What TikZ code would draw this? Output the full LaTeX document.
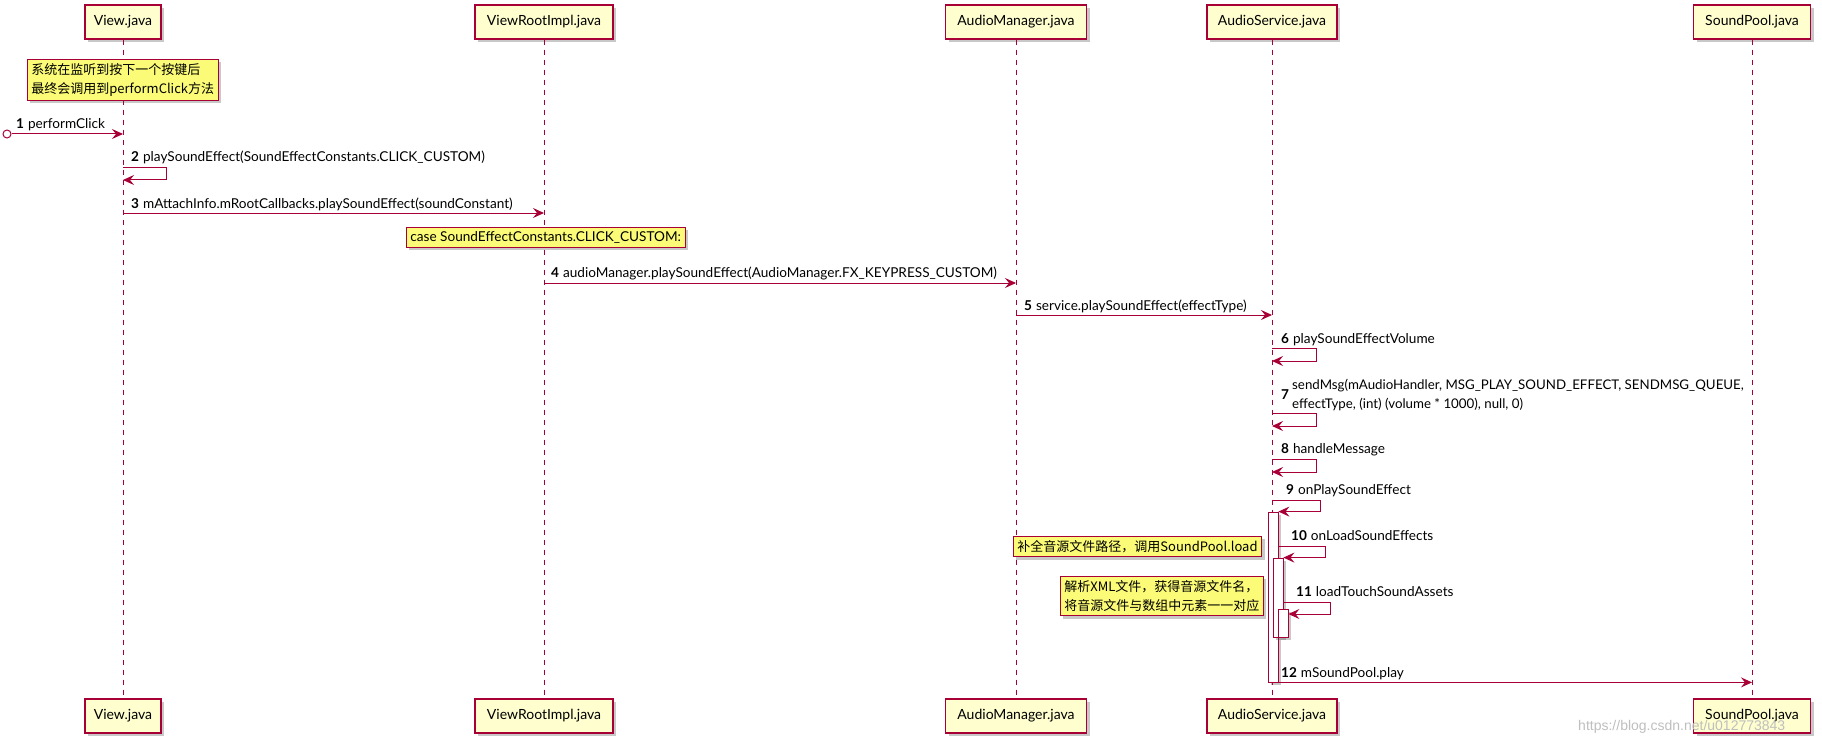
\documentclass[tikz,border=0pt]{standalone}
\usepackage{fontspec}
\setmainfont{Lato}
\newfontfamily\cjk{Noto Sans CJK SC}
\newfontfamily\wmfont{Liberation Sans}
\usepackage{xcolor}
\usetikzlibrary{arrows.meta, positioning, calc, shadows}
\definecolor{umlred}{HTML}{A80036}
\definecolor{partfill}{HTML}{FEFECE}
\definecolor{notefill}{HTML}{FBFB77}

\begin{document}
\begin{tikzpicture}[
  x=1pt, y=-1pt,
  font=\fontsize{13.6}{16}\selectfont,
  umlshadow/.style = {drop shadow={shadow xshift=3pt, shadow yshift=-3pt,
    opacity=0.3, fill=black!70}},
  partnode/.style = {rectangle, draw=umlred, fill=partfill, line width=1.2pt,
    minimum height=34pt, inner sep=0pt, font=\fontsize{14}{16}\selectfont, umlshadow},
  notenode/.style = {rectangle, draw=umlred, fill=notefill, line width=0.8pt,
    inner xsep=4pt, inner ysep=4pt, align=left, anchor=north west,
    font=\cjk\fontsize{13}{19}\selectfont, umlshadow},
  actbox/.style = {rectangle, draw=umlred, fill=white, line width=0.8pt,
    minimum width=10pt, inner sep=0pt, umlshadow},
  lifeline/.style = {umlred, line width=0.8pt, dash pattern=on 5pt off 5pt},
  msg/.style = {umlred, line width=1pt, -{Stealth[length=11pt, width=10pt, inset=4pt]}},
  lbl/.style = {anchor=base west, inner sep=0pt},
]
\useasboundingbox[fill=white] (0,0) rectangle (1822,746);

% Participants (top row)
\node[partnode, minimum width=76pt]  (viewT) at (123,22)  {View.java};
\node[partnode, minimum width=138pt] (vriT)  at (544,22)  {ViewRootImpl.java};
\node[partnode, minimum width=141pt] (amT)   at (1016,22) {AudioManager.java};
\node[partnode, minimum width=130pt] (svcT)  at (1272,22) {AudioService.java};
\node[partnode, minimum width=117pt] (spT)   at (1752,22) {SoundPool.java};

% Participants (bottom row)
\node[partnode, minimum width=76pt]  (viewB) at (123,716)  {View.java};
\node[partnode, minimum width=138pt] (vriB)  at (544,716)  {ViewRootImpl.java};
\node[partnode, minimum width=141pt] (amB)   at (1016,716) {AudioManager.java};
\node[partnode, minimum width=130pt] (svcB)  at (1272,716) {AudioService.java};
\node[partnode, minimum width=117pt] (spB)   at (1752,716) {SoundPool.java};

% Lifelines
\draw[lifeline] (viewT) -- (viewB);
\draw[lifeline] (vriT) -- (vriB);
\draw[lifeline] (amT) -- (amB);
\draw[lifeline] (svcT) -- (svcB);
\draw[lifeline] (spT) -- (spB);

% Note on View.java
\node[notenode] (keyN) at (27,59) {系统在监听到按下一个按键后\\最终会调用到performClick方法};

% 1 performClick
\node[circle, draw=umlred, fill=white, line width=1pt, minimum size=8pt, inner sep=0pt] (start) at (7,134) {};
\draw[msg] (start) -- (viewT |- start);
\node[lbl] at (16,129) {\textbf{1}\hspace{4pt}performClick};

% 2 self call
\coordinate (r2) at (0,168);
\draw[msg] (viewT |- r2) -- ++(43,0) |- ++(-43,12);
\node[lbl] at (131,162) {\textbf{2}\hspace{4pt}playSoundEffect(SoundEffectConstants.CLICK\_CUSTOM)};

% 3 View -> ViewRootImpl
\coordinate (r3) at (0,213);
\draw[msg] (viewT |- r3) -- (vriT |- r3);
\node[lbl] at (131,208) {\textbf{3}\hspace{4pt}mAttachInfo.mRootCallbacks.playSoundEffect(soundConstant)};

% Note on ViewRootImpl.java
\node[notenode, font=\fontsize{13.6}{16}\selectfont] (caseN) at (406,227) {case SoundEffectConstants.CLICK\_CUSTOM:};

% 4 ViewRootImpl -> AudioManager
\coordinate (r4) at (0,283);
\draw[msg] (vriT |- r4) -- (amT |- r4);
\node[lbl] at (551,277) {\textbf{4}\hspace{4pt}audioManager.playSoundEffect(AudioManager.FX\_KEYPRESS\_CUSTOM)};

% 5 AudioManager -> AudioService
\coordinate (r5) at (0,315);
\draw[msg] (amT |- r5) -- (svcT |- r5);
\node[lbl] at (1024,310) {\textbf{5}\hspace{4pt}service.playSoundEffect(effectType)};

% 6-8 self calls in AudioService
\coordinate (r6) at (0,348);
\draw[msg] (svcT |- r6) -- ++(44,0) |- ++(-44,13);
\node[lbl] at (1281,343) {\textbf{6}\hspace{4pt}playSoundEffectVolume};

\coordinate (r7) at (0,413);
\draw[msg] (svcT |- r7) -- ++(44,0) |- ++(-44,13);
\node[lbl] at (1281,399) {\textbf{7}};
\node[anchor=west, inner sep=0pt, align=left, font=\fontsize{13.3}{19}\selectfont] at (1292,395)
  {sendMsg(mAudioHandler, MSG\_PLAY\_SOUND\_EFFECT, SENDMSG\_QUEUE,\\effectType, (int) (volume * 1000), null, 0)};

\coordinate (r8) at (0,459);
\draw[msg] (svcT |- r8) -- ++(44,0) |- ++(-44,13);
\node[lbl] at (1281,453) {\textbf{8}\hspace{4pt}handleMessage};

% 9 onPlaySoundEffect, activation
\node[actbox, minimum height=170pt] (act1) at (1273,597) {};
\coordinate (r9) at (0,500);
\draw[msg] (svcT |- r9) -- ++(48,0) |- (act1.north east);
\node[lbl] at (1286,494) {\textbf{9}\hspace{4pt}onPlaySoundEffect};

% 10 onLoadSoundEffects
\node[actbox, minimum height=79pt] (act2) at (1278,597.5) {};
\coordinate (r10) at (0,546);
\draw[msg] (act1.east |- r10) -- ++(47,0) |- (act2.north east);
\node[lbl] at (1291,540) {\textbf{10}\hspace{4pt}onLoadSoundEffects};
\node[notenode] (loadN) at (1013,536) {补全音源文件路径，调用SoundPool.load};

% 11 loadTouchSoundAssets
\node[actbox, minimum height=28pt] (act3) at (1283,623) {};
\coordinate (r11) at (0,602);
\draw[msg] (act2.east |- r11) -- ++(47,0) |- (act3.east |- 0,614);
\node[lbl] at (1296,596) {\textbf{11}\hspace{4pt}loadTouchSoundAssets};
\node[notenode] (xmlN) at (1060,576) {解析XML文件，获得音源文件名，\\将音源文件与数组中元素一一对应};

% 12 AudioService -> SoundPool
\draw[msg] (act1.south east) -- (spT |- act1.south);
\node[lbl] at (1281,677) {\textbf{12}\hspace{4pt}mSoundPool.play};

% Watermark
\node[anchor=west, inner sep=0pt, text=black!25, font=\wmfont\fontsize{14}{16}\selectfont] (wm) at (1578,727) {https://blog.csdn.net/u012773843};
\end{tikzpicture}
\end{document}
